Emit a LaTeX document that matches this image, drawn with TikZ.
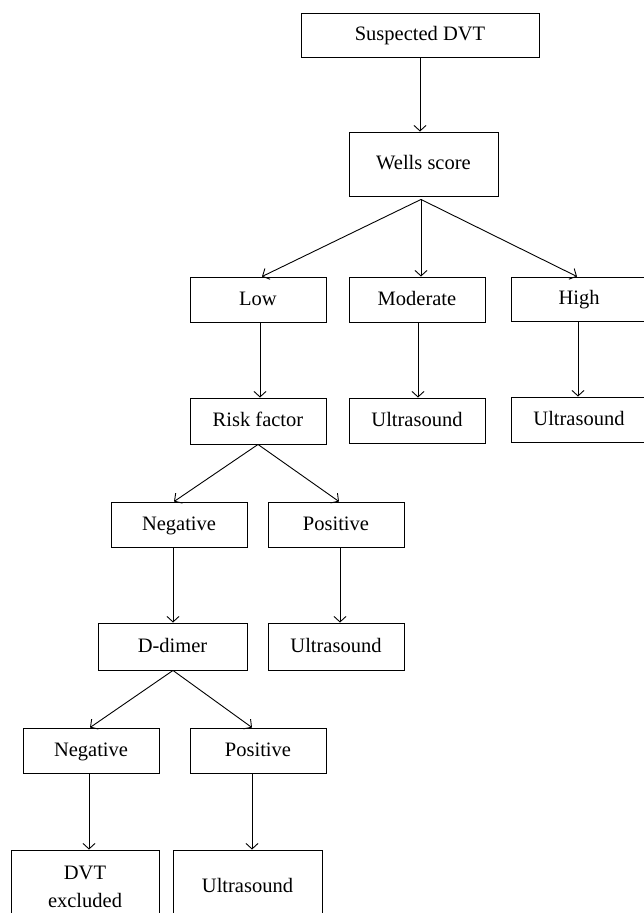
\documentclass[tikz,border=0pt]{standalone}
\usepackage{fontspec}
\setmainfont{Liberation Serif}
\usetikzlibrary{arrows.meta,calc}
\begin{document}
\begin{tikzpicture}[x=1pt,y=-1pt,
  box/.style={draw=black,line width=0.9pt,fill=white,inner sep=0pt,anchor=center,
    font=\fontsize{20.5}{28}\selectfont,align=center,text height=14pt,text depth=3pt},
  arr/.style={draw=black,line width=0.9pt,-{Straight Barb[length=5.5pt,width=12pt,line width=0.9pt]}}]
\useasboundingbox (0,0) rectangle (644,913);
\clip (0,0) rectangle (644,913);
\fill[white] (0,0) rectangle (644,913);
% nodes
\node[box,minimum width=238pt,minimum height=44pt] (sus) at (420,35) {Suspected DVT};
\node[box,minimum width=149pt,minimum height=64pt] (wells) at (423.5,164) {Wells score};
\node[box,minimum width=136pt,minimum height=45pt] (low) at (258,299.5) {Low};
\node[box,minimum width=136pt,minimum height=45pt] (mod) at (417,299.5) {Moderate};
\node[box,minimum width=136pt,minimum height=44pt] (high) at (579,299) {High};
\node[box,minimum width=136pt,minimum height=46pt] (risk) at (258,421) {Risk factor};
\node[box,minimum width=136pt,minimum height=45pt] (usa) at (417,420.5) {Ultrasound};
\node[box,minimum width=136pt,minimum height=45pt] (usb) at (579,419.5) {Ultrasound};
\node[box,minimum width=136pt,minimum height=45pt] (nega) at (179,524.5) {Negative};
\node[box,minimum width=136pt,minimum height=45pt] (posa) at (336,524.5) {Positive};
\node[box,minimum width=149pt,minimum height=47pt] (dd) at (172.5,646.5) {D-dimer};
\node[box,minimum width=136pt,minimum height=47pt] (usc) at (336,646.5) {Ultrasound};
\node[box,minimum width=136pt,minimum height=45pt] (negb) at (91,750.5) {Negative};
\node[box,minimum width=136pt,minimum height=45pt] (posb) at (258,750.5) {Positive};
\node[box,text height=,text depth=,minimum width=148pt,minimum height=74pt] (dvtx) at (85,887) {DVT\\excluded};
\node[box,minimum width=149pt,minimum height=74pt] (usd) at (247.5,887) {Ultrasound};
% connectors
\coordinate (wb) at ($(wells.south)+(-2.5,3)$);
\coordinate (rb) at ($(risk.south)+(0,0)$);
\coordinate (db) at ($(dd.south)+(0.5,0)$);
\draw[arr] (sus.south) -- (sus.south |- wells.north);
\draw[arr] (wb) -- ($(low.north)+(4,0)$);
\draw[arr] (wb) -- (wb |- mod.north);
\draw[arr] (wb) -- ($(high.north)+(-2,0)$);
\draw[arr] ($(low.south)+(2,0)$) -- ($(risk.north)+(2,0)$);
\draw[arr] ($(mod.south)+(1,0)$) -- ($(usa.north)+(1,0)$);
\draw[arr] ($(high.south)+(-1,0)$) -- ($(usb.north)+(-1,0)$);
\draw[arr] (rb) -- ($(nega.north)+(-5,0)$);
\draw[arr] (rb) -- ($(posa.north)+(3,0)$);
\draw[arr] (db |- nega.south) -- (db |- dd.north);
\draw[arr] ($(posa.south)+(4,0)$) -- ($(usc.north)+(4,0)$);
\draw[arr] (db) -- ($(negb.north)+(-1,0)$);
\draw[arr] (db) -- ($(posb.north)+(-6,0)$);
\draw[arr] ($(negb.south)+(-2,0)$) -- ($(negb.south |- dvtx.north)+(-2,0)$);
\draw[arr] ($(posb.south)+(-6,0)$) -- ($(posb.south |- usd.north)+(-6,0)$);
\end{tikzpicture}
\end{document}
